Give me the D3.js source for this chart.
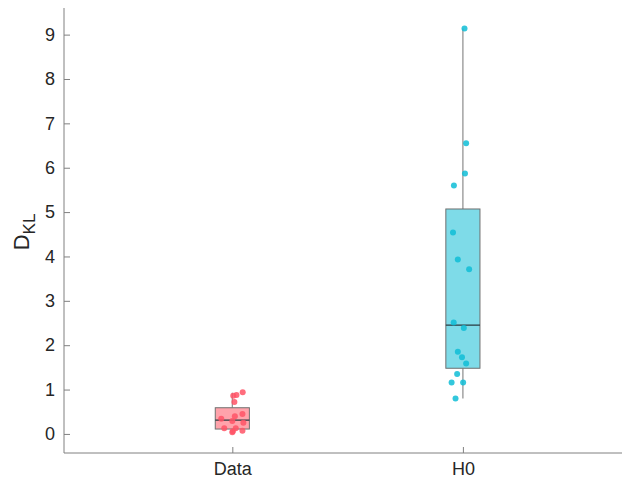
<!DOCTYPE html>
<html>
<head>
<meta charset="utf-8">
<script src="https://cdn.jsdelivr.net/npm/d3@7"></script>
<style>
  html, body { margin: 0; padding: 0; background: #fff; }
  svg { display: block; font-family: "Liberation Sans", Arial, Helvetica, sans-serif; }
</style>
</head>
<body>
<svg id="chart" width="622" height="479"></svg>
<script>
// ---- data ----
const categories = ["Data", "H0"];
const yTicks = [0, 1, 2, 3, 4, 5, 6, 7, 8, 9];

const dataValues = [0.94, 0.88, 0.86, 0.72, 0.45, 0.40, 0.34, 0.29, 0.25, 0.13, 0.13, 0.07, 0.06, 0.04];
const dataJitter = [0.045, 0.018, 0.004, 0.009, 0.044, 0.011, -0.048, 0.0, 0.048, -0.035, 0.015, 0.044, 0.002, 0.0];

const h0Values = [9.14, 6.55, 5.87, 5.60, 4.54, 3.93, 3.71, 2.51, 2.39, 1.85, 1.73, 1.59, 1.35, 1.16, 1.16, 0.80];
const h0Jitter = [0.007, 0.014, 0.009, -0.039, -0.043, -0.022, 0.027, -0.040, 0.004, -0.022, -0.004, 0.014, -0.025, -0.049, 0.001, -0.032];

// box statistics: [whiskerLow, q1, median, q3, whiskerHigh]
const dataBox = [0.04, 0.11, 0.31, 0.59, 0.93];
const h0Box = [0.80, 1.48, 2.45, 5.07, 9.14];

const fillColors = ["#ffa3ab", "#7edbe8"];
const pointColors = ["#ff5466", "#0fbdd6"];

// ---- layout ----
const svg = d3.select("#chart");
const mLeft = 64, mRight = 622, mTop = 8, mBottom = 453;

const x = d3.scaleLinear().domain([0.27, 2.69]).range([mLeft, mRight]);
const y = d3.scaleLinear().domain([-0.43, 9.6]).range([mBottom, mTop]);

const groups = [
  { name: categories[0], pos: 1, values: dataValues, jitter: dataJitter, box: dataBox },
  { name: categories[1], pos: 2, values: h0Values, jitter: h0Jitter, box: h0Box }
];

const halfW = 0.074;
const axisColor = "#808080";
const textColor = "#262626";

groups.forEach((g, i) => {
  const gg = svg.append("g");
  gg.append("line")
    .attr("x1", x(g.pos)).attr("x2", x(g.pos))
    .attr("y1", y(g.box[0])).attr("y2", y(g.box[1]))
    .attr("stroke", "#8c8c8c").attr("stroke-width", 1.2);
  gg.append("line")
    .attr("x1", x(g.pos)).attr("x2", x(g.pos))
    .attr("y1", y(g.box[3])).attr("y2", y(g.box[4]))
    .attr("stroke", "#8c8c8c").attr("stroke-width", 1.2);
  gg.append("rect")
    .attr("x", x(g.pos - halfW))
    .attr("width", x(g.pos + halfW) - x(g.pos - halfW))
    .attr("y", y(g.box[3]))
    .attr("height", y(g.box[1]) - y(g.box[3]))
    .attr("fill", fillColors[i])
    .attr("stroke", "#6f6f6f").attr("stroke-width", 1);
  gg.append("line")
    .attr("x1", x(g.pos - halfW)).attr("x2", x(g.pos + halfW))
    .attr("y1", y(g.box[2])).attr("y2", y(g.box[2]))
    .attr("stroke", "#2a3a40").attr("stroke-width", 1.2);
  gg.selectAll("circle")
    .data(g.values.map((v, k) => ({ v, j: g.jitter[k] })))
    .join("circle")
    .attr("cx", d => x(g.pos + d.j))
    .attr("cy", d => y(d.v))
    .attr("r", 3)
    .attr("fill", pointColors[i])
    .attr("fill-opacity", 0.85);
});

// ---- axes ----
const yAxis = d3.axisLeft(y).tickValues(yTicks).tickSize(-6).tickPadding(10).tickFormat(d3.format("d"));
const yG = svg.append("g").attr("transform", `translate(${mLeft},0)`).call(yAxis);
yG.select(".domain").attr("stroke", axisColor).attr("d", `M0,${mTop}V${mBottom}`);
yG.selectAll(".tick line").attr("stroke", axisColor);
yG.selectAll(".tick text").attr("fill", textColor).style("font-size", "18px").attr("x", -9);

const xAxis = d3.axisBottom(x).tickValues([1, 2]).tickSize(-6).tickPadding(10)
  .tickFormat(d => categories[d - 1]);
const xG = svg.append("g").attr("transform", `translate(0,${mBottom})`).call(xAxis);
xG.select(".domain").attr("stroke", axisColor).attr("d", `M${mLeft},0H${mRight}`);
xG.selectAll(".tick line").attr("stroke", axisColor);
xG.selectAll(".tick text").attr("fill", textColor).style("font-size", "18px").attr("y", 9);

// y label D_KL
const lab = svg.append("text")
  .attr("transform", `translate(29,232) rotate(-90)`)
  .attr("text-anchor", "middle")
  .attr("fill", textColor)
  .style("font-size", "22px");
lab.append("tspan").text("D");
lab.append("tspan").attr("dy", 6).style("font-size", "17px").text("KL");
</script>
</body>
</html>
